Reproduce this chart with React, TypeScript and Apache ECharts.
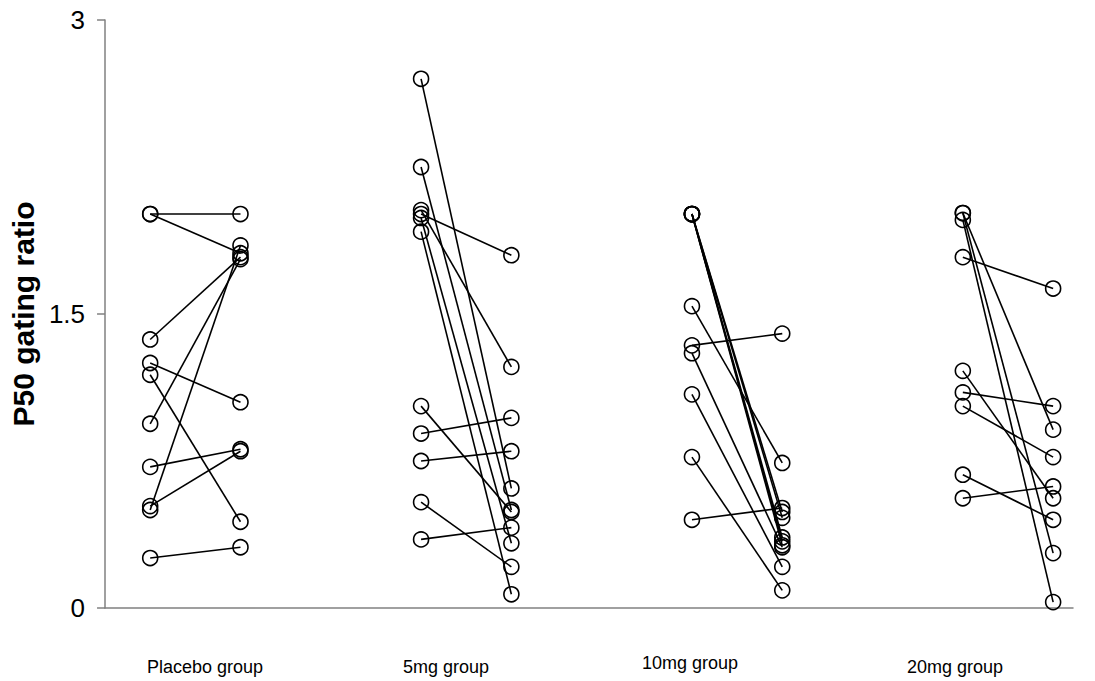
import React, { useEffect, useRef } from "react";
import * as echarts from "echarts";

// Category labels
const groupLabels = ["Placebo group", "5mg group", "10mg group", "20mg group"];

// Paired values (before -> after) for each subject, per group
const placeboPre = [2.01, 2.01, 1.37, 1.25, 1.19, 0.94, 0.72, 0.52, 0.5, 0.255];
const placeboPost = [2.01, 1.81, 1.79, 1.05, 0.44, 1.78, 0.81, 0.8, 1.85, 0.31];

const mg5Pre = [2.7, 2.25, 2.03, 2.01, 1.99, 1.92, 1.03, 0.89, 0.75, 0.54, 0.35];
const mg5Post = [0.61, 0.5, 1.23, 1.8, 0.33, 0.07, 0.49, 0.97, 0.8, 0.21, 0.41];

const mg10Pre = [2.01, 2.01, 2.01, 2.01, 2.01, 1.54, 1.34, 1.3, 1.09, 0.77, 0.45];
const mg10Post = [0.49, 0.46, 0.36, 0.34, 0.32, 0.74, 1.4, 0.31, 0.21, 0.09, 0.51];

const mg20Pre = [2.015, 2.015, 1.98, 1.79, 1.21, 1.1, 1.03, 0.68, 0.56];
const mg20Post = [0.91, 0.28, 0.03, 1.63, 0.56, 1.03, 0.77, 0.45, 0.62];

const yTicks = [0, 1.5, 3];

const groupsPre = [placeboPre, mg5Pre, mg10Pre, mg20Pre];
const groupsPost = [placeboPost, mg5Post, mg10Post, mg20Post];

export default function App() {
  const ref = useRef<HTMLDivElement>(null);

  useEffect(() => {
    if (!ref.current) return;
    const chart = echarts.init(ref.current, undefined, { renderer: "svg" });

    const series: any[] = [];
    groupsPre.forEach((pre, g) => {
      const post = groupsPost[g];
      pre.forEach((v, i) => {
        series.push({
          type: "line",
          data: [
            [3 * g + 0.5, v],
            [3 * g + 1.5, post[i]],
          ],
          symbol: "circle",
          symbolSize: 15,
          showSymbol: true,
          lineStyle: { color: "#000", width: 1.6 },
          itemStyle: { color: "rgba(0,0,0,0)", borderColor: "#000", borderWidth: 1.6 },
          emphasis: { disabled: true },
          silent: true,
          z: 2,
        });
      });
    });

    const labelX = [205, 446, 690, 955];
    const labelY = [667, 667, 663, 667];

    chart.setOption({
      animation: false,
      backgroundColor: "#fff",
      grid: { left: 103, right: 22, top: 20, bottom: 73, containLabel: false },
      xAxis: {
        type: "value",
        min: 0,
        max: 10.72,
        axisLine: { show: true, lineStyle: { color: "#808080", width: 1.5 } },
        axisTick: { show: false },
        axisLabel: { show: false },
        splitLine: { show: false },
      },
      yAxis: {
        type: "value",
        min: yTicks[0],
        max: yTicks[yTicks.length - 1],
        interval: 1.5,
        name: "P50 gating ratio",
        nameLocation: "middle",
        nameGap: 62,
        nameTextStyle: {
          fontFamily: "Liberation Sans, Arial, sans-serif",
          fontSize: 30,
          fontWeight: "bold",
          color: "#000",
        },
        axisLine: { show: true, lineStyle: { color: "#808080", width: 1.5 } },
        axisTick: { show: true, inside: false, length: 8, lineStyle: { color: "#808080", width: 1.5 } },
        axisLabel: {
          color: "#000",
          fontSize: 26,
          fontFamily: "Liberation Sans, Arial, sans-serif",
          margin: 20,
          formatter: (v: number) => String(v),
        },
        splitLine: { show: false },
      },
      graphic: groupLabels.map((t, i) => ({
        type: "text",
        x: labelX[i],
        y: labelY[i],
        style: {
          text: t,
          fill: "#000",
          font: "18px 'Liberation Sans', Arial, sans-serif",
          textAlign: "center",
          textVerticalAlign: "middle",
        },
      })),
      series,
    });

    return () => chart.dispose();
  }, []);

  return (
    <div
      ref={ref}
      style={{ position: "fixed", left: 0, top: 0, width: 1095, height: 681 }}
    />
  );
}
